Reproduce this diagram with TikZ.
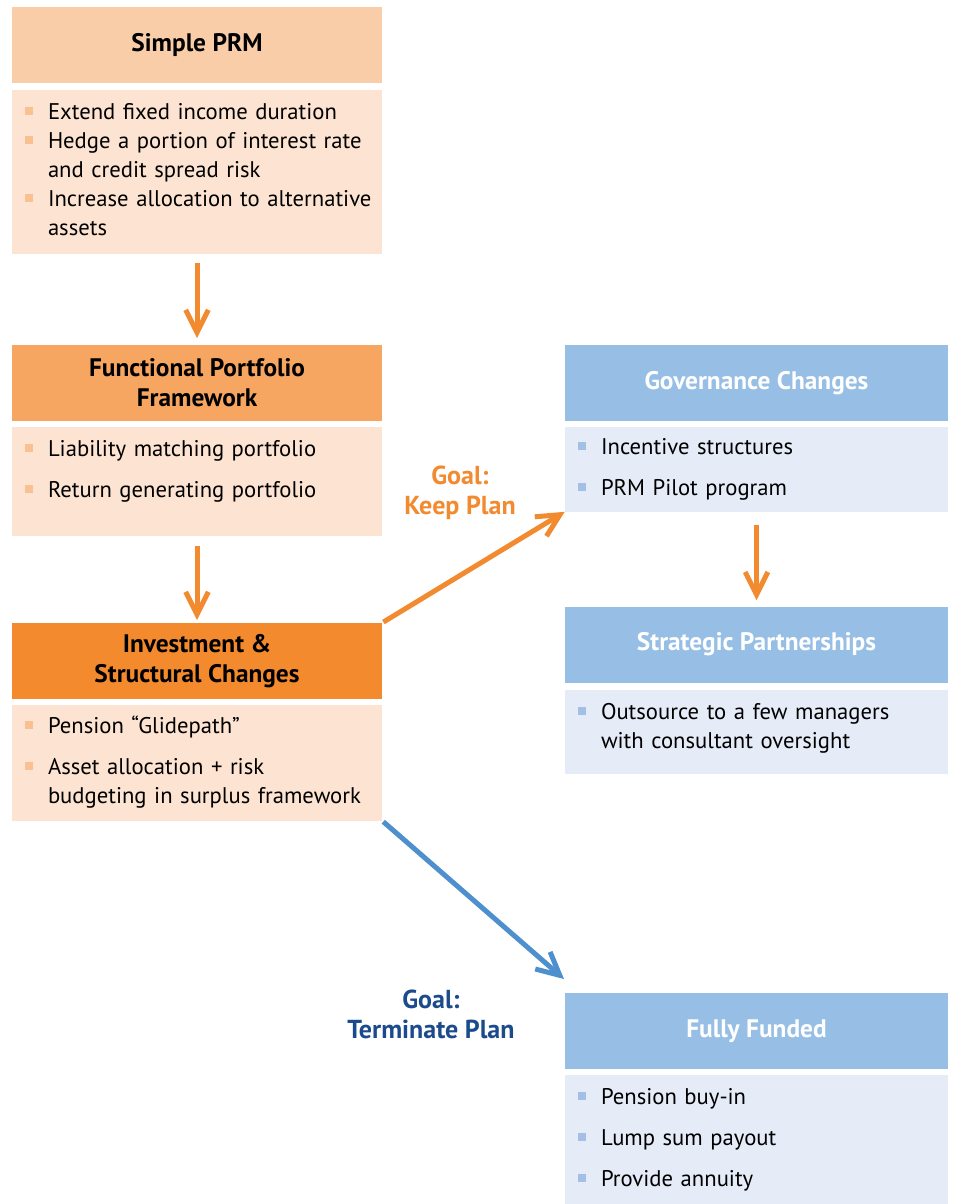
\documentclass[tikz,border=0pt]{standalone}
\usepackage{fontspec}
\setmainfont{PT Sans}
\usetikzlibrary{positioning,arrows.meta}

\definecolor{prmhead}{HTML}{F9CDA8}
\definecolor{fpfhead}{HTML}{F6A660}
\definecolor{ischead}{HTML}{F38A2D}
\definecolor{orgbody}{HTML}{FDE4D2}
\definecolor{orgbul}{HTML}{F9C091}
\definecolor{bluhead}{HTML}{97BFE6}
\definecolor{blubody}{HTML}{E5ECF8}
\definecolor{blubul}{HTML}{A3BFE4}
\definecolor{orgarrow}{HTML}{F28A30}
\definecolor{bluarrow}{HTML}{4E8FCD}
\definecolor{goalblue}{HTML}{1B4B8C}

\newcommand{\obul}{\textcolor{orgbul}{\rule[3pt]{6pt}{6pt}}}
\newcommand{\bbul}{\textcolor{blubul}{\rule[3pt]{6pt}{6pt}}}

\tikzset{
  head/.style={rectangle, minimum height=57pt, inner sep=0pt, align=center,
    font=\fontsize{19}{22.5}\selectfont\bfseries},
  lefthead/.style={head, minimum width=277.5pt},
  righthead/.style={head, minimum width=287.25pt, fill=bluhead, text=white},
  body/.style={rectangle, inner xsep=9.75pt, inner ysep=0pt, align=left,
    font=\fontsize{17}{21.75}\selectfont},
  leftbody/.style={body, fill=orgbody, text width=258pt},
  rightbody/.style={body, fill=blubody, text width=267.75pt},
  flow/.style={-{Straight Barb[length=17pt,width=17pt]}, line width=3.75pt, orgarrow},
  goal/.style={align=center, font=\fontsize{19.5}{22.5}\selectfont\bfseries}
}

\begin{document}
\begin{tikzpicture}[x=0.75pt,y=-0.75pt]
\useasboundingbox (0,0) rectangle (954,1204);

% left column
\node[lefthead, fill=prmhead] (prm) at (197,45) {Simple PRM};
\node[leftbody, minimum height=123pt, below=4.5pt of prm] (prmbody) {%
\begin{tabular}{@{}l@{\hspace{11.25pt}}l@{}}
\obul & Extend fixed income duration\\
\obul & Hedge a portion of interest rate\\
      & and credit spread risk\\
\obul & Increase allocation to alternative\\
      & assets
\end{tabular}};

\node[lefthead, fill=fpfhead] (fpf) at (197,383) {Functional Portfolio\\Framework};
\node[leftbody, minimum height=81.75pt, below=3.75pt of fpf] (fpfbody) {%
\begin{tabular}{@{}l@{\hspace{11.25pt}}l@{}}
\obul & Liability matching portfolio\\[9pt]
\obul & Return generating portfolio\rule[-21.5pt]{0pt}{21.5pt}
\end{tabular}};

\node[lefthead, fill=ischead] (isc) at (197,661) {Investment \&\\Structural Changes};
\node[leftbody, minimum height=87pt, below=3.75pt of isc] (iscbody) {%
\begin{tabular}{@{}l@{\hspace{11.25pt}}l@{}}
\obul & Pension ``Glidepath''\\[9pt]
\obul & Asset allocation + risk\\
      & budgeting in surplus framework
\end{tabular}};

% right column
\node[righthead] (gov) at (756.5,383) {Governance Changes};
\node[rightbody, minimum height=63.75pt, below=3.75pt of gov] (govbody) {%
\begin{tabular}{@{}l@{\hspace{11.25pt}}l@{}}
\bbul & Incentive structures\\[9pt]
\bbul & PRM Pilot program
\end{tabular}};

\node[righthead] (sp) at (756.5,644.5) {Strategic Partnerships};
\node[rightbody, minimum height=63pt, below=5.25pt of sp] (spbody) {%
\begin{tabular}{@{}l@{\hspace{11.25pt}}l@{}}
\bbul & Outsource to a few managers\\
      & with consultant oversight\rule[-12.5pt]{0pt}{12.5pt}
\end{tabular}};

\node[righthead] (ff) at (756.5,1031) {Fully Funded};
\node[rightbody, minimum height=97.5pt, below=3.75pt of ff] (ffbody) {%
\begin{tabular}{@{}l@{\hspace{11.25pt}}l@{}}
\bbul & Pension buy-in\\[9pt]
\bbul & Lump sum payout\\[9pt]
\bbul & Provide annuity
\end{tabular}};

% goals
\node[goal, text=orgarrow] (keep) at (460,493) {Goal:\\Keep Plan};
\node[goal, text=goalblue] (term) at (431,1014) {Goal:\\Terminate Plan};
\coordinate (ffaim) at (564,979);

\draw[flow, shorten <=7pt, shorten >=5pt] (prmbody.south) -- (fpf.north);
\draw[flow, shorten <=7.5pt, shorten >=2pt] (fpfbody.south) -- (isc.north);
\draw[flow, shorten <=10pt, shorten >=4.5pt] (govbody.south) -- (sp.north);
\draw[flow, shorten <=1pt] (isc.north east) -- (govbody.south west);
\draw[flow, bluarrow, shorten <=1pt] (iscbody.south east) -- (ffaim);

\end{tikzpicture}
\end{document}
